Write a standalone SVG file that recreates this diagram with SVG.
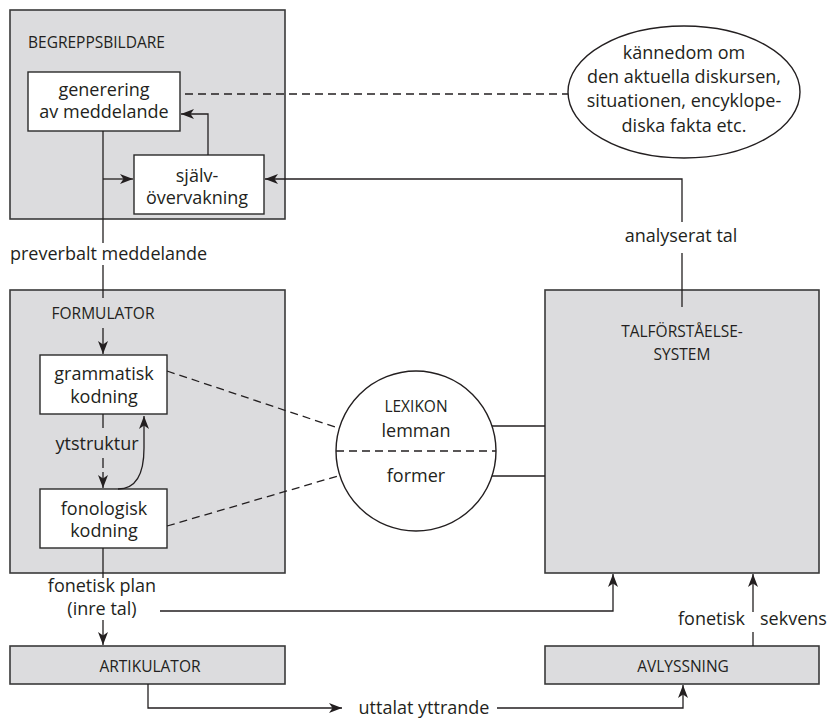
<svg xmlns="http://www.w3.org/2000/svg" width="827" height="718" viewBox="0 0 827 718">
<defs>
<style>
.grey{fill:#dcdcde;stroke:#3a3a3a;stroke-width:1.6}
.white{fill:#fff;stroke:#2a2a2a;stroke-width:1.4}
.t{font-family:"Open Sans","Liberation Sans",sans-serif;font-size:18px;fill:#231f20;text-anchor:middle}
.c{font-family:"Open Sans","Liberation Sans",sans-serif;font-size:15.5px;fill:#231f20;text-anchor:middle}
.ln{fill:none;stroke:#231f20;stroke-width:1.3}
.ds{fill:none;stroke:#231f20;stroke-width:1.3;stroke-dasharray:8 5}
</style>
<marker id="ah" markerUnits="userSpaceOnUse" markerWidth="14" markerHeight="10" refX="13" refY="5" orient="auto">
<path d="M0,0 L13,5 L0,10 L3.5,5 z" fill="#231f20"/>
</marker>
</defs>

<g id="begreppsbildare">
<rect class="grey" x="10" y="10" width="275" height="209"/>
<text class="c" x="28" y="48" style="text-anchor:start">BEGREPPSBILDARE</text>
</g>
<g id="generering">
<rect class="white" x="28" y="72" width="152" height="59"/>
<text class="t" x="104" y="96">generering</text>
<text class="t" x="104" y="118">av meddelande</text>
</g>
<g id="overvakning">
<rect class="white" x="134" y="155" width="130" height="59"/>
<text class="t" x="197" y="182">själv-</text>
<text class="t" x="197" y="204">övervakning</text>
</g>
<g id="kannedom">
<ellipse cx="684" cy="92" rx="116" ry="66" fill="#fff" stroke="#231f20" stroke-width="1.4"/>
<text class="t" x="684" y="59">kännedom om</text>
<text class="t" x="684" y="83">den aktuella diskursen,</text>
<text class="t" x="684" y="107">situationen, encyklope-</text>
<text class="t" x="684" y="132">diska fakta etc.</text>
</g>
<g id="formulator">
<rect class="grey" x="10" y="290" width="275" height="283"/>
<text class="c" x="103" y="319">FORMULATOR</text>
</g>
<g id="grammatisk">
<rect class="white" x="40" y="355" width="127" height="59"/>
<text class="t" x="104" y="380">grammatisk</text>
<text class="t" x="104" y="403">kodning</text>
</g>
<g id="fonologisk">
<rect class="white" x="40" y="489" width="127" height="59"/>
<text class="t" x="104" y="515">fonologisk</text>
<text class="t" x="104" y="537">kodning</text>
</g>
<g id="lexikon">
<circle cx="416" cy="451" r="80" fill="#fff" stroke="#231f20" stroke-width="1.4"/>
<line class="ds" x1="336" y1="451" x2="496" y2="451"/>
<text class="c" x="416" y="412">LEXIKON</text>
<text class="t" x="416" y="437">lemman</text>
<text class="t" x="416" y="482">former</text>
</g>
<g id="talforstaelse">
<rect class="grey" x="545" y="290" width="274" height="283"/>
<text class="c" x="682" y="337">TALFÖRSTÅELSE-</text>
<text class="c" x="682" y="360">SYSTEM</text>
</g>
<g id="artikulator">
<rect class="grey" x="10" y="646" width="275" height="38"/>
<text class="c" x="150" y="672">ARTIKULATOR</text>
</g>
<g id="avlyssning">
<rect class="grey" x="545" y="646" width="274" height="38"/>
<text class="c" x="683" y="672">AVLYSSNING</text>
</g>

<g id="connectors">
<path class="ln" d="M208,155 V114 H181" marker-end="url(#ah)"/>
<path class="ln" d="M103,131 V243"/>
<path class="ln" d="M103,179 H133" marker-end="url(#ah)"/>
<path class="ln" d="M103,265 V298"/>
<path class="ln" d="M103,328 V354" marker-end="url(#ah)"/>
<path class="ln" d="M682,307 V253"/>
<path class="ln" d="M682,222 V179 H265" marker-end="url(#ah)"/>
<path class="ds" d="M185,94 H568"/>
<path class="ds" d="M167,371 L338,428"/>
<path class="ds" d="M167,526 L338,476"/>
<path class="ln" d="M492,426 H545"/>
<path class="ln" d="M492,476 H545"/>
<path class="ln" d="M103,414 V429" stroke-dasharray="14 4"/>
<path class="ln" d="M103,458 V488" stroke-dasharray="10 4 20" marker-end="url(#ah)"/>
<path class="ln" d="M118,489 C137,489 144,472 144,448 V416" marker-end="url(#ah)"/>
<path class="ln" d="M103,548 V578"/>
<path class="ln" d="M103,620 V645" marker-end="url(#ah)"/>
<path class="ln" d="M160,611 H613 V574" marker-end="url(#ah)"/>
<path class="ln" d="M148,684 V708 H342" marker-end="url(#ah)"/>
<path class="ln" d="M497,708 H683 V685" marker-end="url(#ah)"/>
<path class="ln" d="M753,646 V632"/>
<path class="ln" d="M753,612 V574" marker-end="url(#ah)"/>
</g>

<g id="labels">
<text class="t" x="10" y="260" style="text-anchor:start">preverbalt meddelande</text>
<text class="t" x="97" y="450">ytstruktur</text>
<text class="t" x="102" y="592">fonetisk plan</text>
<text class="t" x="102" y="615">(inre tal)</text>
<text class="t" x="681" y="242">analyserat tal</text>
<text class="t" x="424" y="714">uttalat yttrande</text>
<text class="t" x="678" y="625" style="text-anchor:start">fonetisk<tspan x="760">sekvens</tspan></text>
</g>
</svg>
